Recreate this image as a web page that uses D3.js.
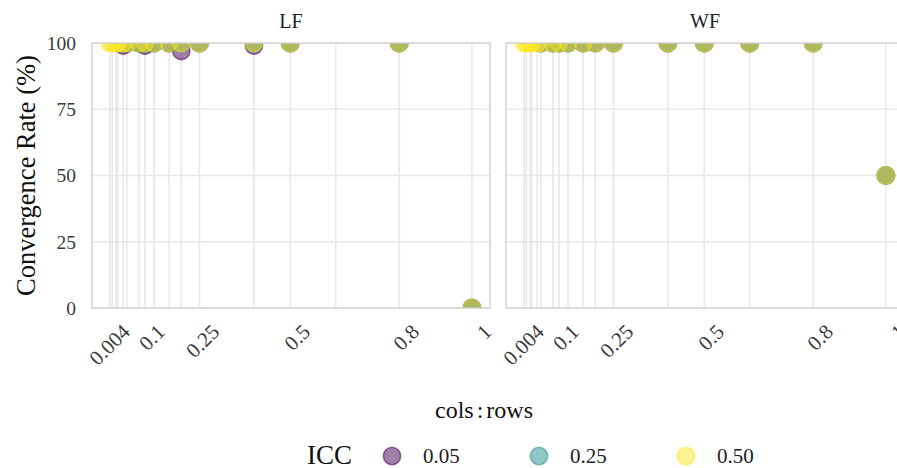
<!DOCTYPE html>
<html>
<head>
<meta charset="utf-8">
<script src="https://cdn.jsdelivr.net/npm/d3@7"></script>
<style>
  body { margin: 0; background: #fff; }
  svg { display: block; font-family: "Liberation Serif", "Times New Roman", serif; }
</style>
</head>
<body>
<svg id="chart" width="897" height="468"></svg>
<script>
// cols:rows ratios (one gridline per value)
const ratios = [0.004, 0.01, 0.02, 0.025, 0.04, 0.05, 0.0833, 0.1, 0.125, 0.1667, 0.2, 0.25, 0.4, 0.5, 0.625, 0.8, 1];
const tickVals = [0.004, 0.1, 0.25, 0.5, 0.8, 1];
const tickLabels = ["0.004", "0.1", "0.25", "0.5", "0.8", "1"];
const yTicks = [0, 25, 50, 75, 100];
const panels = ["LF", "WF"];
const iccLevels = ["0.05", "0.25", "0.50"];
const iccColors = ["#440154", "#21908C", "#FDE725"];

// convergence rate (%) per ratio, null = not estimated
const lf05 = [null, null, null, null, 99, 100, 100, 99, 100, 100, 97, 100, 99, 100, null, 100, 0];
const lf25 = [null, null, null, null, 100, 100, 100, 100, 100, 100, 100, 100, 100, 100, null, 100, 0];
const lf50 = [100, 100, 100, 100, 100, 100, 100, 100, 100, 100, 100, 100, 100, 100, null, 100, 0];
const wf05 = [null, null, null, null, null, 100, 100, 100, 100, 100, 100, 100, 100, 100, 100, 100, 50];
const wf25 = [null, null, null, null, null, 100, 100, 100, 100, 100, 100, 100, 100, 100, 100, 100, 50];
const wf50 = [100, 100, 100, 100, 100, 100, 100, 100, 100, 100, 100, 100, 100, 100, 100, 100, 50];

const series = {
  LF: [lf05, lf25, lf50],
  WF: [wf05, wf25, wf50]
};

const svg = d3.select("#chart");
const panelW = 398, panelTop = 43, panelBot = 308;
const panelX = [92, 506];

const ext = d3.extent(ratios), pad = (ext[1] - ext[0]) * 0.05;
const y = d3.scaleLinear().domain([0, 100]).range([panelBot, panelTop]);
const color = d3.scaleOrdinal().domain(iccLevels).range(iccColors);
const r = 8.7;

// y axis labels
svg.append("g").selectAll("text")
  .data(yTicks).join("text")
  .attr("x", 76).attr("y", d => y(d))
  .attr("dy", "0.35em")
  .attr("text-anchor", "end")
  .attr("font-size", 19.5)
  .attr("fill", "#3a3a3a")
  .text(d => d);

svg.append("text")
  .attr("transform", "translate(35," + ((panelTop + panelBot) / 2) + ") rotate(-90)")
  .attr("text-anchor", "middle")
  .attr("font-size", 26.5)
  .attr("fill", "#111")
  .text("Convergence Rate (%)");

panels.forEach((name, pi) => {
  const x0 = panelX[pi];
  const x = d3.scaleLinear().domain([ext[0] - pad, ext[1] + pad]).range([x0, x0 + panelW]);
  const g = svg.append("g");

  // grid
  g.append("g").selectAll("line")
    .data(yTicks).join("line")
    .attr("x1", x0).attr("x2", x0 + panelW)
    .attr("y1", d => y(d)).attr("y2", d => y(d))
    .attr("stroke", "#e8e8e8").attr("stroke-width", 1.6);
  g.append("g").selectAll("line")
    .data(ratios).join("line")
    .attr("x1", d => x(d)).attr("x2", d => x(d))
    .attr("y1", panelTop).attr("y2", panelBot)
    .attr("stroke", "#e8e8e8").attr("stroke-width", 1.6);

  // points
  const pts = g.append("g");
  series[name].forEach((vals, k) => {
    pts.append("g").selectAll("circle")
      .data(ratios.map((v, i) => ({ x: v, y: vals[i] })).filter(d => d.y !== null))
      .join("circle")
      .attr("cx", d => x(d.x)).attr("cy", d => y(d.y))
      .attr("r", r)
      .attr("fill", color(iccLevels[k])).attr("fill-opacity", 0.5)
      .attr("stroke", color(iccLevels[k])).attr("stroke-opacity", 0.5)
      .attr("stroke-width", 1.6);
  });

  // mask what spills over the panel edges (panel clipping)
  g.append("rect")
    .attr("x", x0 - 2).attr("y", 0)
    .attr("width", panelW + 4).attr("height", panelTop)
    .attr("fill", "#fff");
  g.append("rect")
    .attr("x", x0 - 2).attr("y", panelBot)
    .attr("width", panelW + 4).attr("height", 14)
    .attr("fill", "#fff");

  g.append("rect")
    .attr("x", x0).attr("y", panelTop)
    .attr("width", panelW).attr("height", panelBot - panelTop)
    .attr("fill", "none").attr("stroke", "#cfcfcf").attr("stroke-width", 1.4);

  // strip
  g.append("text")
    .attr("x", x0 + panelW / 2).attr("y", 28)
    .attr("text-anchor", "middle")
    .attr("font-size", 20)
    .attr("fill", "#222")
    .text(name);

  // x tick labels, rotated 45
  g.append("g").selectAll("text")
    .data(tickVals).join("text")
    .attr("transform", d => "translate(" + (x(d) + 10) + "," + (panelBot + 14) + ") rotate(-45)")
    .attr("text-anchor", "end")
    .attr("dy", "0.75em")
    .attr("font-size", 21)
    .attr("fill", "#3a3a3a")
    .text((d, i) => tickLabels[i]);
});

const xt = svg.append("text")
  .attr("x", 484).attr("y", 418)
  .attr("text-anchor", "middle")
  .attr("font-size", 24)
  .attr("fill", "#111");
xt.append("tspan").text("cols");
xt.append("tspan").attr("dx", 3).text(":");
xt.append("tspan").attr("dx", 3).text("rows");

// legend
const leg = svg.append("g");
leg.append("text")
  .attr("x", 307).attr("y", 464)
  .attr("font-size", 27)
  .attr("fill", "#111")
  .text("ICC");
const items = leg.selectAll("g.item")
  .data(iccLevels).join("g")
  .attr("class", "item")
  .attr("transform", (d, i) => "translate(" + (392 + i * 147) + ",456)");
items.append("circle")
  .attr("r", r)
  .attr("fill", d => color(d)).attr("fill-opacity", 0.5)
  .attr("stroke", d => color(d)).attr("stroke-opacity", 0.5)
  .attr("stroke-width", 1.6);
items.append("text")
  .attr("x", 31).attr("dy", "0.35em")
  .attr("font-size", 21)
  .attr("fill", "#222")
  .text(d => d);
</script>
</body>
</html>
